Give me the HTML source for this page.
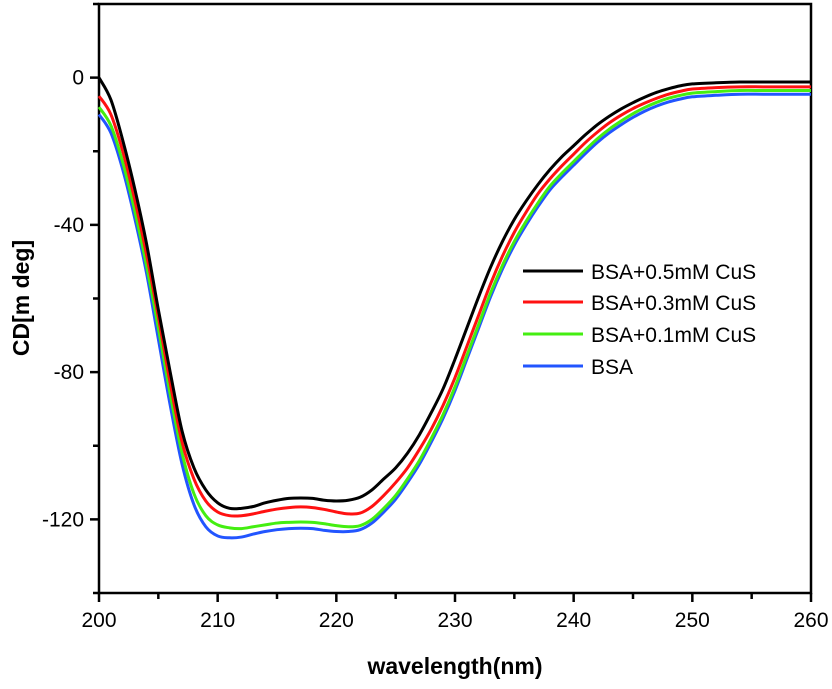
<!DOCTYPE html>
<html><head><meta charset="utf-8"><style>
html,body{margin:0;padding:0;background:#fff;}
svg{display:block;font-family:"Liberation Sans",Arial,sans-serif;}
</style></head><body>
<svg id="chart" width="832" height="689" viewBox="0 0 832 689">
<g id="axes"></g><g id="series"></g><g id="legend"></g>
</svg>
<script>
const wavelengths=[200,201,202,203,204,205,206,207,208,209,210,211,212,213,214,215,216,217,218,219,220,221,222,223,224,225,226,227,228,229,230,231,232,233,234,235,236,237,238,239,240,241,242,243,244,245,246,247,248,249,250,252,254,256,258,260];
const cus05=[0,-6,-17,-30,-45,-63,-80,-96,-106,-112,-115.5,-117,-117,-116.5,-115.5,-114.8,-114.3,-114.2,-114.3,-114.8,-115,-114.8,-114,-112,-109,-106,-102,-97,-91,-84.5,-76.5,-68,-59.5,-51.5,-44.5,-38.5,-33.5,-29,-25,-21.5,-18.5,-15.5,-12.8,-10.5,-8.5,-6.8,-5.3,-4,-3,-2.2,-1.7,-1.4,-1.2,-1.2,-1.2,-1.2];
const cus03=[-5,-10,-20,-33,-48,-65,-83,-99,-109,-115,-118,-119,-119,-118.5,-117.8,-117.2,-116.8,-116.6,-116.8,-117.3,-118,-118.5,-118.3,-116.5,-113.5,-110,-106,-101,-95.5,-89,-81.5,-73,-64.5,-56,-48.5,-42,-36.5,-31.5,-27.5,-24,-20.8,-17.6,-14.8,-12.3,-10.2,-8.4,-6.9,-5.6,-4.5,-3.7,-3.1,-2.7,-2.5,-2.5,-2.5,-2.5];
const cus01=[-8,-13,-23,-36,-51,-68,-86,-102,-113,-119,-121.5,-122.3,-122.5,-122,-121.5,-121,-120.8,-120.7,-120.8,-121.2,-121.7,-122,-121.7,-120,-117,-113.5,-109,-104,-98,-91.5,-84,-75.5,-67,-58.5,-51,-44.5,-39,-34,-29.5,-26,-22.8,-19.6,-16.6,-14,-11.8,-9.8,-8.1,-6.7,-5.6,-4.8,-4.2,-3.8,-3.5,-3.5,-3.5,-3.5];
const bsa=[-10,-15,-25,-38,-53,-71,-89,-105,-116,-122,-124.5,-125,-124.8,-124,-123.3,-122.8,-122.5,-122.4,-122.5,-123,-123.3,-123.3,-122.8,-121,-118,-114.5,-110,-105,-99,-92.5,-85,-76.5,-68,-59.5,-52,-45.5,-40,-35,-30.5,-27,-23.8,-20.6,-17.6,-15,-12.8,-10.8,-9.1,-7.7,-6.6,-5.8,-5.2,-4.8,-4.5,-4.5,-4.5,-4.5];
const seriesNames=["BSA+0.5mM CuS","BSA+0.3mM CuS","BSA+0.1mM CuS","BSA"];
const xTicks=[200,210,220,230,240,250,260];
const yTicks=[0,-40,-80,-120];

const X0=99,X1=811,Y0=4,Y1=593,xmin=200,xmax=260,ymin=-140,ymax=20;
const sx=v=>X0+(v-xmin)/(xmax-xmin)*(X1-X0);
const sy=v=>Y0+(ymax-v)/(ymax-ymin)*(Y1-Y0);
const NS="http://www.w3.org/2000/svg";
function mk(tag,parent,attrs){const e=document.createElementNS(NS,tag);for(const k in attrs)e.setAttribute(k,attrs[k]);parent.appendChild(e);return e;}
const axes=document.getElementById('axes'),ser=document.getElementById('series'),leg=document.getElementById('legend');

const frame=mk('rect',axes,{x:X0,y:Y0,width:X1-X0,height:Y1-Y0,fill:'none',stroke:'#000','stroke-width':2.5});


for(let v=200;v<=260;v+=5){
  const major=v%10===0;
  const t=mk('line',axes,{x1:sx(v),x2:sx(v),y1:Y1,y2:Y1+(major?9:6),stroke:'#000','stroke-width':2.5});
  
  
}
xTicks.forEach(v=>{
  const t=mk('text',axes,{x:sx(v),y:Y1+34,'text-anchor':'middle','font-size':21,fill:'#000'});
  t.textContent=v;
  
  
});
for(let v=-140;v<=20;v+=20){
  const major=v%40===0 && v>=-120 && v<=0;
  const t=mk('line',axes,{x1:X0,x2:X0-(major?9:6),y1:sy(v),y2:sy(v),stroke:'#000','stroke-width':2.5});
  
  
}
yTicks.forEach(v=>{
  const t=mk('text',axes,{x:X0-15,y:sy(v)+7,'text-anchor':'end','font-size':21,fill:'#000'});
  t.textContent=v;
  
  
});
const xt=mk('text',axes,{x:455,y:674,'text-anchor':'middle','font-size':23,'font-weight':'bold',fill:'#000'});
xt.textContent='wavelength(nm)';


const yt=mk('text',axes,{x:0,y:0,'text-anchor':'middle','font-size':23,'font-weight':'bold',fill:'#000',transform:'translate(29,298) rotate(-90)'});
yt.textContent='CD[m deg]';



function pathFor(ys){
  const p=wavelengths.map((x,i)=>[sx(x),sy(ys[i])]);
  let d='M'+p[0][0]+','+p[0][1];
  for(let i=0;i<p.length-1;i++){
    const a=p[Math.max(0,i-1)],b=p[i],c=p[i+1],e=p[Math.min(p.length-1,i+2)];
    d+=' C'+(b[0]+(c[0]-a[0])/6)+','+(b[1]+(c[1]-a[1])/6)+' '+(c[0]-(e[0]-b[0])/6)+','+(c[1]-(e[1]-b[1])/6)+' '+c[0]+','+c[1];
  }
  return d;
}
const allSeries=[bsa,cus01,cus03,cus05];
const colors=['#2255ff','#44ee11','#ff1111','#000000'];
const names=['line-bsa','line-bsa-0-1mm-cus','line-bsa-0-3mm-cus','line-bsa-0-5mm-cus'];
allSeries.forEach((s,i)=>{
  const p=mk('path',ser,{d:pathFor(s),fill:'none',stroke:colors[i],'stroke-width':3,'stroke-linejoin':'round'});
  
  
});
const legColors=['#000000','#ff1111','#44ee11','#2255ff'];
const legY=[271,302,334,366];
seriesNames.forEach((n,i)=>{
  const g=mk('g',leg,{});
  
  
  mk('line',g,{x1:523,x2:583,y1:legY[i],y2:legY[i],stroke:legColors[i],'stroke-width':3});
  const t=mk('text',g,{x:591,y:legY[i]+8,'font-size':21,fill:'#000'});
  t.textContent=n;
});
</script>
</body></html>
